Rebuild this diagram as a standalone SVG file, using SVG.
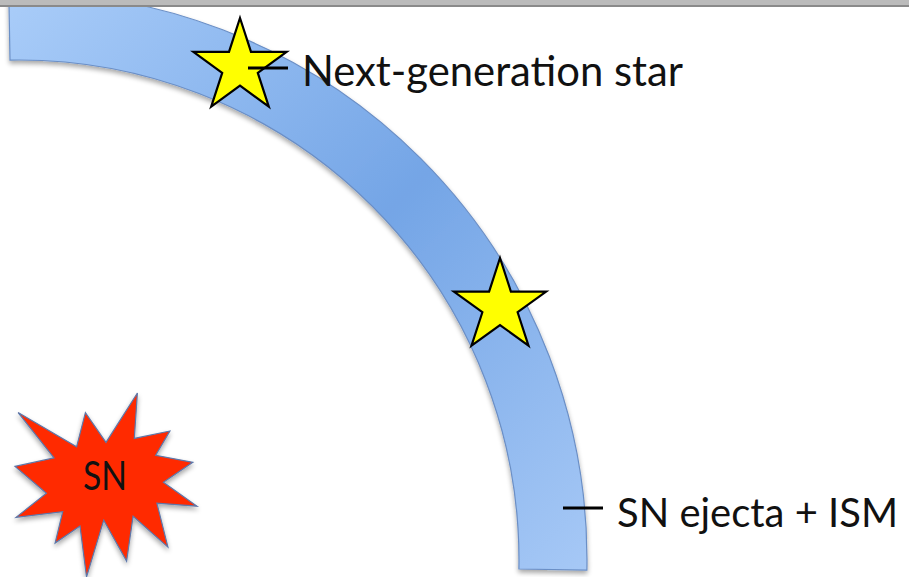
<svg xmlns="http://www.w3.org/2000/svg" xmlns:xlink="http://www.w3.org/1999/xlink" width="909" height="577" viewBox="0 0 909 577">
  <defs>
    <style>
      .label { font-family: "Lato", "Open Sans", "Liberation Sans", sans-serif; fill: #111; }
      .leader { stroke: #000; stroke-width: 3; fill: none; }
      .star { fill: #ffff00; stroke: #000; stroke-width: 2.2; stroke-linejoin: miter; }
    </style>
    <linearGradient id="bandFill" gradientUnits="userSpaceOnUse" x1="0" y1="0" x2="600" y2="600">
      <stop offset="0" stop-color="#aacdf9"/>
      <stop offset="0.5" stop-color="#74a5e6"/>
      <stop offset="1" stop-color="#aacbf7"/>
    </linearGradient>
    <filter id="softShadow" x="-10%" y="-10%" width="120%" height="125%">
      <feGaussianBlur in="SourceAlpha" stdDeviation="2.5"/>
      <feOffset dx="0" dy="3" result="blur"/>
      <feComponentTransfer><feFuncA type="linear" slope="0.35"/></feComponentTransfer>
      <feMerge><feMergeNode/><feMergeNode in="SourceGraphic"/></feMerge>
    </filter>
    <!-- five-pointed star centred on the origin -->
    <polygon id="star5" points="0,-49 11,-15.1 46.6,-15.1 17.8,5.8 28.8,39.6 0,18.7 -28.8,39.6 -17.8,5.8 -46.6,-15.1 -11,-15.1"/>
  </defs>

  <rect width="909" height="577" fill="#ffffff"/>

  <!-- expanding shell of ejecta and swept-up gas -->
  <g id="shell">
    <path d="M 8.8,-7.9 A 568 568 0 0 1 586.9,570.2 L 518.9,569 A 500 500 0 0 0 10,60.1 Z"
          fill="url(#bandFill)" stroke="#6b8fc6" stroke-width="1.2" filter="url(#softShadow)"/>
  </g>

  <!-- window title strip -->
  <rect x="0" y="0" width="909" height="5" fill="#bbbbbb"/>
  <rect x="0" y="5" width="909" height="2" fill="#8a8a8a"/>

  <g id="star-1">
    <use xlink:href="#star5" class="star" transform="translate(240,67)"/>
  </g>

  <g id="star-2">
    <use xlink:href="#star5" class="star" transform="translate(500,306.5) scale(0.99)"/>
  </g>

  <g id="sn-burst">
    <path d="M106,442.4 L137.4,393 L134.3,438.4 L169.9,431 L155.7,455.3 L192.8,462.3 L163.4,482.2 L197,506.2 L156.9,503.2 L167.9,547.1 L133.1,516.2 L126.6,561.1 L103.7,520.2 L86.5,577 L80,526.1 L55.1,543.1 L62.7,511.7 L16.1,517.3 L46.4,493.3 L15,466.4 L54,457.9 L18.1,412.6 L76.6,446.8 L85.4,412.6 Z"
          fill="#ff2a00" stroke="#5d78aa" stroke-width="1.2" stroke-linejoin="miter" filter="url(#softShadow)"/>
    <text class="label" x="105" y="490" font-size="40" text-anchor="middle" textLength="44" lengthAdjust="spacingAndGlyphs">SN</text>
  </g>

  <g id="connectors">
    <line class="leader" x1="248" y1="68" x2="288" y2="68"/>
    <line class="leader" x1="563" y1="508" x2="603" y2="508"/>
  </g>

  <g id="label-star">
    <text class="label" x="302" y="86" font-size="42" textLength="381" lengthAdjust="spacingAndGlyphs">Next-generation star</text>
  </g>

  <g id="label-shell">
    <text class="label" x="617" y="527" font-size="41" textLength="281" lengthAdjust="spacingAndGlyphs">SN ejecta + ISM</text>
  </g>
</svg>
